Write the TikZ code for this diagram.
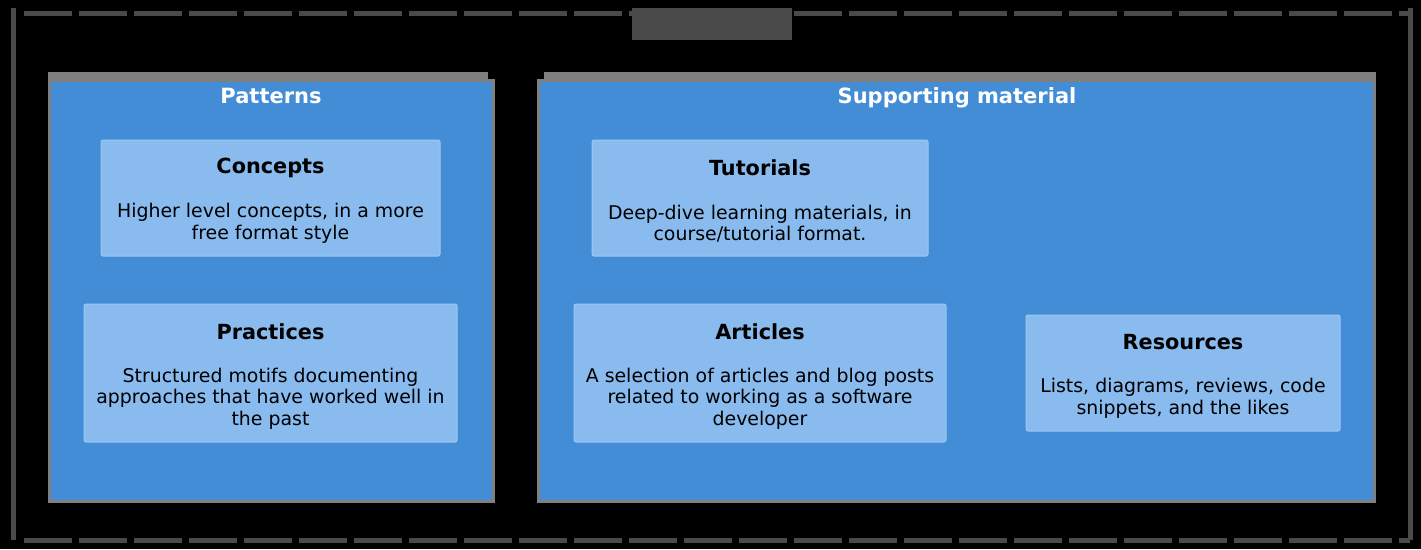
\documentclass[tikz,border=0pt]{standalone}
\usepackage{fontspec}
\setmainfont{DejaVu Sans}
\definecolor{panelblue}{HTML}{438CD6}
\definecolor{boxblue}{HTML}{89BBEF}
\definecolor{boxedge}{HTML}{9CC6F2}
\definecolor{panelgray}{HTML}{7F7F7F}
\definecolor{framegray}{HTML}{4A4A4A}
\tikzset{
  x=1pt, y=-1pt,
  panel/.style={fill=panelblue, draw=panelgray, line width=3pt},
  topbar/.style={fill=panelgray, draw=none},
  card/.style={fill=boxblue, draw=boxedge, line width=1pt, rounded corners=2pt},
  cardtitle/.style={font=\fontsize{20.8}{24}\selectfont\bfseries, text=black, inner sep=0pt},
  cardbody/.style={font=\fontsize{18.9}{21.6}\selectfont, text=black, align=center, inner sep=0pt},
  paneltitle/.style={font=\fontsize{21}{24}\selectfont\bfseries, text=white, inner sep=0pt},
  frame/.style={draw=framegray, line width=5pt},
}
\begin{document}
\begin{tikzpicture}
\fill[black] (0,0) rectangle (1421,549);
\useasboundingbox (0,0) rectangle (1421,549);
% outer frame
\draw[frame] (13,8) -- (13,540);
\draw[frame] (1410,8) -- (1410,540);
\draw[frame, dash pattern=on 48pt off 7pt] (24,13) -- (1410,13);
\draw[frame, dash pattern=on 48pt off 7pt] (24,540) -- (1410,540);
% top label block
\node[fill=framegray, minimum width=160pt, minimum height=32pt, inner sep=0pt] (lbl) at (712,24) {};
% Patterns panel
\fill[topbar] (48,72) rectangle (488,80);
\draw[panel] (49.5,80) rectangle (493.5,501.5);
\node[paneltitle] (ptitle) at (271,95.5) {Patterns};
% Supporting material panel
\fill[topbar] (544,72) rectangle (1376,80);
\draw[panel] (538.5,80) rectangle (1374.5,501.5);
\node[paneltitle] (stitle) at (957,97.5) {Supporting material};
% cards
\draw[card] (101,140) rectangle (440,256);
\node[cardtitle] (concepts) at (270.5,168) {Concepts};
\node[cardbody] (conceptsb) at (270.5,223.5) {Higher level concepts, in a more\\free format style};

\draw[card] (84,304) rectangle (457,442);
\node[cardtitle] (practices) at (270.5,332) {Practices};
\node[cardbody] (practicesb) at (270.5,398.5) {Structured motifs documenting\\approaches that have worked well in\\the past};

\draw[card] (592,140) rectangle (928,256);
\node[cardtitle] (tutorials) at (760,167.5) {Tutorials};
\node[cardbody] (tutorialsb) at (760,223.5) {Deep-dive learning materials, in\\course/tutorial format.};

\draw[card] (574,304) rectangle (946,442);
\node[cardtitle] (articles) at (760,332) {Articles};
\node[cardbody] (articlesb) at (760,398.5) {A selection of articles and blog posts\\related to working as a software\\developer};

\draw[card] (1026,315) rectangle (1340,431);
\node[cardtitle] (resources) at (1183,342.5) {Resources};
\node[cardbody] (resourcesb) at (1183,398.5) {Lists, diagrams, reviews, code\\snippets, and the likes};
\end{tikzpicture}
\end{document}
